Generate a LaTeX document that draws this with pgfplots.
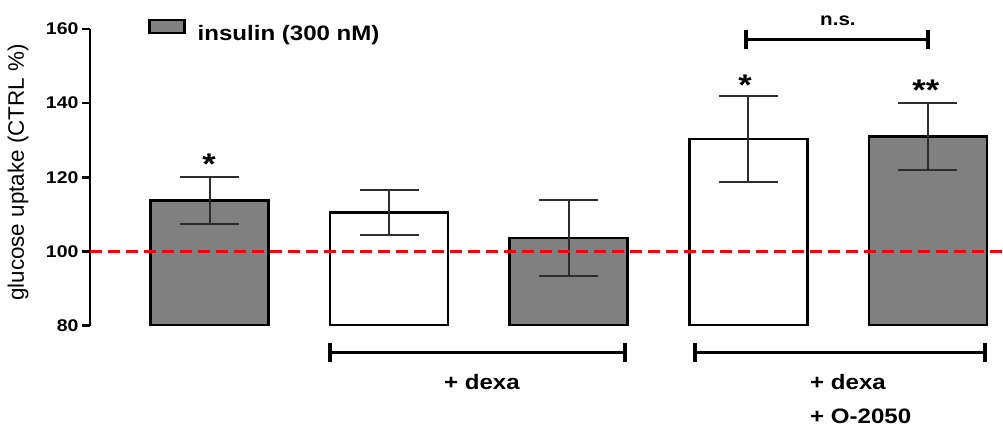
\documentclass[border=0pt]{standalone}
\usepackage{fontspec}
\setmainfont{Liberation Sans}[FakeStretch=1.15]
\newfontfamily\ylabfont{Liberation Sans}
\usepackage{pgfplots}
\pgfplotsset{compat=1.18}
\definecolor{barfill}{RGB}{128,128,128}
\definecolor{refred}{RGB}{255,0,0}
\definecolor{errcol}{RGB}{45,45,45}

\begin{document}
\begin{tikzpicture}
\begin{axis}[
  width=913bp, height=296.7bp, scale only axis,
  xmin=0.3346, xmax=5.418, ymin=80, ymax=160,
  axis y line*=left, axis x line=none,
  xtick=\empty,
  ytick={80,100,120,140,160},
  tick align=outside, major tick length=8bp,
  every tick/.style={black, line width=2.5bp},
  axis line style={line width=2.5bp},
  yticklabel style={font=\fontsize{17}{17}\selectfont\bfseries},
  /pgf/number format/assume math mode=true,
  ylabel={glucose uptake (CTRL \%)},
  every axis y label/.style={at={(axis description cs:-0.0789,0.5164)}, rotate=90, anchor=center, font=\ylabfont\fontsize{22.5}{22.5}\selectfont},
  clip mode=individual,
  legend style={at={(axis description cs:0.0637,0.9948)}, anchor=west, draw=none, fill=none,
    inner sep=0pt, outer sep=0pt, column sep=12bp, nodes={inner sep=0pt},
    font=\fontsize{21}{21}\selectfont\bfseries},
  legend image code/.code={\draw[fill=barfill, draw=black, line width=2.5bp] (0bp,1bp) rectangle (35bp,14bp);},
]
% insulin (grey) bars
\addplot[ybar, bar width=118bp, bar shift=0pt, fill=barfill, draw=black, line width=2.5bp,
  error bars/.cd, y dir=both, y explicit,
  error bar style={line width=2bp, errcol},
  error mark options={rotate=90, errcol, line width=2bp, mark size=29.5bp}]
  coordinates {(1,113.7) +- (0,6.3) (3,103.6) +- (0,10.2) (5,131.0) +- (0,9.05)};
\addlegendentry{insulin (300 nM)}
% control (white) bars
\addplot[ybar, bar width=118bp, bar shift=0pt, fill=white, draw=black, line width=2.5bp, forget plot,
  error bars/.cd, y dir=both, y explicit,
  error bar style={line width=2bp, errcol},
  error mark options={rotate=90, errcol, line width=2bp, mark size=29.5bp}]
  coordinates {(2,110.5) +- (0,6.05) (4,130.3) +- (0,11.6)};
% reference line at 100 %
\addplot[refred, line width=2.5bp, dash pattern=on 12bp off 6bp, forget plot] coordinates {(0.3346,100) (5.418,100)};

% significance marks
\node[anchor=base, font=\fontsize{30}{30}\selectfont\bfseries] at (axis cs:0.997,120.66) {*};
\node[anchor=base, font=\fontsize{30}{30}\selectfont\bfseries] at (axis cs:3.982,142.09) {*};
\node[anchor=base, font=\fontsize{30}{30}\selectfont\bfseries] at (axis cs:4.988,140.66) {**};
% n.s. bracket
\draw[line width=3.5bp] (axis cs:3.987,157.2) -- (axis cs:5.0,157.2);
\draw[line width=3.5bp] (axis cs:3.987,159.7) -- (axis cs:3.987,154.6);
\draw[line width=3.5bp] (axis cs:5.0,159.7) -- (axis cs:5.0,154.6);
\node[anchor=base, font=\fontsize{18}{18}\selectfont\bfseries] at (axis cs:4.499,161.07) {n.s.};
% group brackets
\draw[line width=3.5bp] (axis cs:1.671,72.77) -- (axis cs:3.313,72.77);
\draw[line width=3.5bp] (axis cs:1.671,75.34) -- (axis cs:1.671,70.21);
\draw[line width=3.5bp] (axis cs:3.313,75.34) -- (axis cs:3.313,70.21);
\draw[line width=3.5bp] (axis cs:3.703,72.77) -- (axis cs:5.318,72.77);
\draw[line width=3.5bp] (axis cs:3.703,75.34) -- (axis cs:3.703,70.21);
\draw[line width=3.5bp] (axis cs:5.318,75.34) -- (axis cs:5.318,70.21);
\node[anchor=base, inner sep=0pt, font=\fontsize{21}{21}\selectfont\bfseries] at (axis cs:2.517,62.66) {+ dexa};
\node[anchor=base west, inner sep=0pt, font=\fontsize{21}{21}\selectfont\bfseries] at (axis cs:4.3435,62.66) {+ dexa};
\node[anchor=base west, inner sep=0pt, font=\fontsize{21}{21}\selectfont\bfseries] at (axis cs:4.3435,53.5) {+ O-2050};

\coordinate (BL) at (axis description cs:-0.09858,-0.3448);
\coordinate (TR) at (axis description cs:1,1.0977);
\end{axis}
\pgfresetboundingbox
\path[use as bounding box] (BL) rectangle (TR);
\end{tikzpicture}
\end{document}
